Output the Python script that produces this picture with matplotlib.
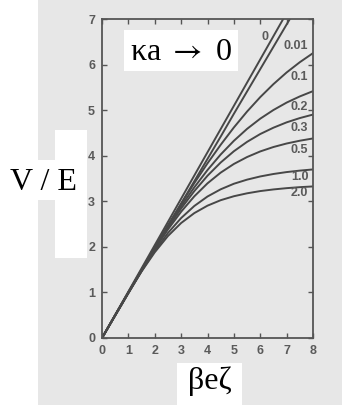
import matplotlib
matplotlib.use("Agg")
import matplotlib.pyplot as plt
from matplotlib.patches import Rectangle

plt.rcParams["mathtext.fontset"] = "stix"

# ---- data ----
x_line0 = [0.0, 6.87]
y_line0 = [0.0, 7.0]

x_grid = [0, 0.5, 1, 1.5, 2, 2.5, 3, 3.5, 4, 4.5, 5, 5.5, 6, 6.5, 7, 7.5, 8]
y_001 = [0, 0.49, 0.98, 1.47, 1.97, 2.46, 2.95, 3.44, 3.93, 4.42, 4.92, 5.41, 5.90, 6.39, 6.88, 7.37, 7.86]
y_01 = [0, 0.50, 0.999, 1.496, 1.989, 2.473, 2.944, 3.399, 3.833, 4.240, 4.620, 4.969, 5.286, 5.571, 5.827, 6.052, 6.251]
y_02 = [0, 0.50, 0.999, 1.493, 1.977, 2.446, 2.891, 3.306, 3.686, 4.027, 4.327, 4.589, 4.813, 5.003, 5.166, 5.301, 5.417]
y_03 = [0, 0.50, 0.998, 1.489, 1.966, 2.420, 2.842, 3.223, 3.561, 3.851, 4.098, 4.304, 4.476, 4.615, 4.732, 4.826, 4.903]
y_05 = [0, 0.50, 0.997, 1.484, 1.950, 2.382, 2.771, 3.109, 3.394, 3.629, 3.819, 3.971, 4.094, 4.191, 4.268, 4.329, 4.379]
y_10 = [0, 0.50, 0.994, 1.471, 1.913, 2.304, 2.632, 2.897, 3.105, 3.263, 3.385, 3.475, 3.545, 3.599, 3.641, 3.673, 3.699]
y_20 = [0, 0.50, 0.992, 1.460, 1.881, 2.238, 2.523, 2.741, 2.904, 3.024, 3.111, 3.175, 3.224, 3.260, 3.288, 3.310, 3.326]

curve_labels = ["0.01", "0.1", "0.2", "0.3", "0.5", "1.0", "2.0"]
label_y = [6.40, 5.72, 5.07, 4.60, 4.12, 3.53, 3.18]
x_ticks = [0, 1, 2, 3, 4, 5, 6, 7, 8]
y_ticks = [0, 1, 2, 3, 4, 5, 6, 7]

W, H = 342, 405
fig = plt.figure(figsize=(W / 100, H / 100), dpi=100, facecolor="white")

def box(x0, y0, x1, y1, color, z):
    fig.patches.append(Rectangle((x0 / W, 1 - y1 / H), (x1 - x0) / W, (y1 - y0) / H,
                                 transform=fig.transFigure, facecolor=color,
                                 edgecolor="none", zorder=z))

# scanned page background and white paste-over boxes
box(38, 0, W, H, "#e7e7e7", -2)
box(124, 30, 238, 71, "white", -1)
box(55, 130, 87, 258, "white", -1)
box(0, 160, 87, 200, "white", -1)
box(177, 363, 242, H, "white", -1)

ax = fig.add_axes([102 / W, 1 - 338 / H, (313 - 102) / W, (338 - 19) / H])
ax.set_facecolor("none")
ax.set_zorder(1)

lc = "#474747"
lw = 1.4
ax.plot(x_line0, y_line0, color=lc, lw=lw)
for ys in [y_001, y_01, y_02, y_03, y_05, y_10, y_20]:
    ax.plot(x_grid, ys, color=lc, lw=lw)

ax.set_xlim(0, 8)
ax.set_ylim(0, 7)
ax.set_xticks(x_ticks)
ax.set_yticks(y_ticks)
ax.tick_params(direction="in", top=True, right=True, length=3.5, width=1,
               color="#555555", labelsize=9, labelcolor="#5a5a5a", pad=5)
sans = ["Liberation Sans", "DejaVu Sans"]
for lab in ax.get_xticklabels() + ax.get_yticklabels():
    lab.set_fontweight("bold")
    lab.set_family(sans)
for s in ax.spines.values():
    s.set_color("#555555")
    s.set_linewidth(1.3)

ax.text(6.17, 6.6, "0", fontsize=9, fontweight="bold", color="#5a5a5a",
        family=sans, ha="center", va="center")
for lab, yy in zip(curve_labels, label_y):
    ax.text(7.82, yy, lab, fontsize=9, fontweight="bold", color="#5a5a5a",
            family=sans, ha="right", va="center")

serif = ["Liberation Serif", "DejaVu Serif"]
fig.text(181 / W, 1 - 52 / H, r"κa $\rightarrow$ 0", fontsize=23, family=serif,
         ha="center", va="center", zorder=3)
fig.text(43 / W, 1 - 183 / H, "V / E", fontsize=23, family=serif,
         ha="center", va="center", zorder=3)
fig.text(210 / W, 1 - 381 / H, "βeζ", fontsize=23, family=serif,
         ha="center", va="center", zorder=3)

fig.savefig("out.png", dpi=100, facecolor="white")
